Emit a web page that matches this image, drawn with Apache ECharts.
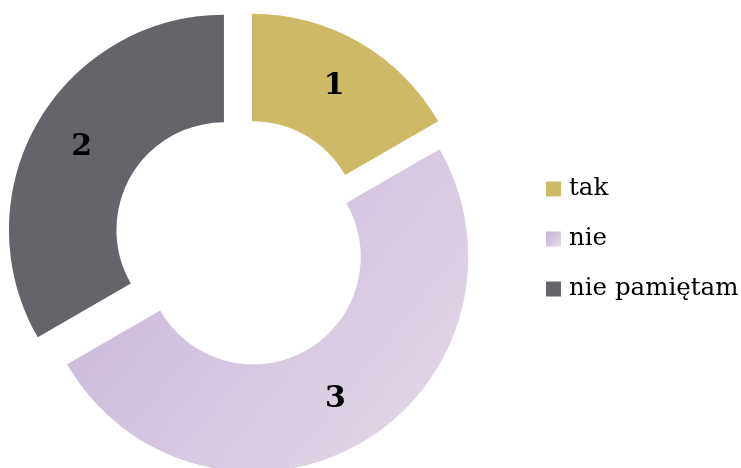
<!DOCTYPE html>
<html>
<head>
<meta charset="utf-8">
<script src="https://cdn.jsdelivr.net/npm/echarts@6/dist/echarts.min.js"></script>
<style>
html,body{margin:0;padding:0;background:#fff;}
#chart{width:741px;height:468px;}
</style>
</head>
<body>
<div id="chart"></div>
<script>
const categories = ['tak', 'nie', 'nie pamiętam'];
const values = [1, 3, 2];

const colors = [
  '#CEB966',
  {type: 'linear', x: 0, y: 0, x2: 1, y2: 1, colorStops: [
    {offset: 0, color: '#C5B3D6'}, {offset: 1, color: '#E4DAE8'}]},
  '#67636A'
];
const explode = [15, 17.5, 23.75];
const center = [244.5, 241.7];
const radius = [107.5, 215];

const chart = echarts.init(document.getElementById('chart'), null, {renderer: 'canvas'});

const series = categories.map((_, i) => ({
  type: 'pie',
  center: center,
  radius: radius,
  startAngle: 90,
  clockwise: true,
  padAngle: 0,
  selectedMode: 'single',
  selectedOffset: explode[i],
  animation: false,
  avoidLabelOverlap: false,
  label: {
    show: true,
    position: 'inside',
    formatter: '{c}',
    fontFamily: 'DejaVu Serif',
    fontWeight: 'bold',
    fontSize: 30,
    color: '#000'
  },
  labelLine: {show: false},
  emphasis: {disabled: true},
  itemStyle: {borderWidth: 0},
  data: categories.map((name, j) => ({
    name: name,
    value: values[j],
    selected: j === i,
    itemStyle: {color: j === i ? colors[j] : 'rgba(0,0,0,0)', borderWidth: 0},
    select: {itemStyle: {color: j === i ? colors[j] : 'rgba(0,0,0,0)', borderWidth: 0}},
    label: {show: j === i}
  }))
}));

chart.setOption({
  backgroundColor: '#fff',
  legend: {
    orient: 'vertical',
    left: 546,
    top: 174,
    padding: 0,
    icon: 'rect',
    itemWidth: 15,
    itemHeight: 15,
    itemGap: 20,
    selectedMode: false,
    textStyle: {
      fontFamily: 'DejaVu Serif',
      fontSize: 24.5,
      color: '#000',
      lineHeight: 30,
      padding: [0, 0, 0, 3]
    },
    data: categories.map((name, j) => ({name: name, itemStyle: {color: colors[j]}}))
  },
  series: series
});
</script>
</body>
</html>
